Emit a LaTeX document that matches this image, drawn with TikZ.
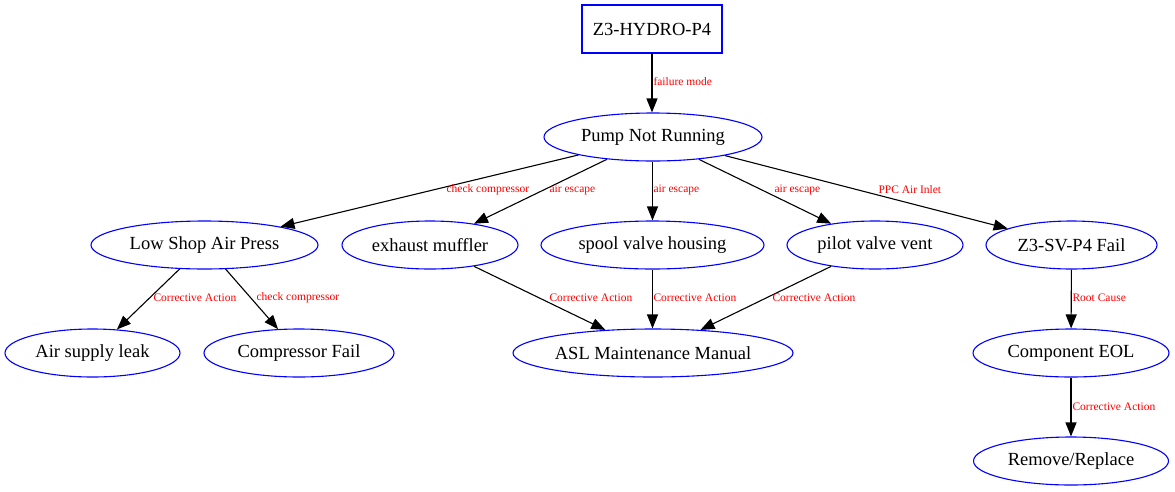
\documentclass[tikz,border=0pt]{standalone}
\usepackage{fontspec}
\setmainfont{Liberation Serif}
\usetikzlibrary{shapes.geometric,arrows.meta}
\newcommand\nbox[1]{\makebox[0pt]{#1}}
\tikzset{
  ell/.style={ellipse, draw=blue, line width=1.1pt, inner sep=0pt, minimum height=48pt,
    font=\fontsize{18.5}{20}\selectfont},
  boxn/.style={rectangle, draw=blue, line width=1.1pt, inner sep=0pt, minimum height=48pt,
    minimum width=140pt, font=\fontsize{18.5}{20}\selectfont},
  edge/.style={draw=black, line width=1.1pt, -{Triangle[length=14pt,width=11pt]}},
  lbl/.style={text=red, font=\fontsize{11.5}{12}\selectfont, inner sep=0pt, anchor=west}
}
\begin{document}
\begin{tikzpicture}[x=1pt,y=-1pt]
\useasboundingbox (0,0) rectangle (1175,491);
\node[boxn] (top) at (652,29) {\nbox{Z3-HYDRO-P4}};
\node[ell, minimum width=218pt] (pump) at (653,137) {\nbox{Pump Not Running}};
\node[ell, minimum width=227pt] (low) at (204.5,245) {\nbox{Low Shop Air Press}};
\node[ell, minimum width=176pt] (exh) at (430,245) {\nbox{exhaust muffler}};
\node[ell, minimum width=223pt] (spool) at (652.5,245) {\nbox{spool valve housing}};
\node[ell, minimum width=176pt] (pilot) at (875,245) {\nbox{pilot valve vent}};
\node[ell, minimum width=171pt] (sv) at (1071.5,245) {\nbox{Z3-SV-P4 Fail}};
\node[ell, minimum width=175pt] (leak) at (92.5,353) {\nbox{Air supply leak}};
\node[ell, minimum width=190pt] (comp) at (299,353) {\nbox{Compressor Fail}};
\node[ell, minimum width=280pt] (asl) at (653,353) {\nbox{ASL Maintenance Manual}};
\node[ell, minimum width=196pt] (eol) at (1071,353) {\nbox{Component EOL}};
\node[ell, minimum width=195pt] (rr) at (1071,461) {\nbox{Remove/Replace}};

\draw[edge] (top) -- (top|-pump.north) node[lbl] at (653,82) {failure mode};
\draw[edge] (pump) -- (low) node[lbl] at (446,190) {check compressor};
\draw[edge] (pump) -- (exh) node[lbl] at (549,190) {air escape};
\draw[edge] (pump.south-|spool) -- (spool) node[lbl] at (653,190) {air escape};
\draw[edge] (pump) -- (pilot) node[lbl] at (774,190) {air escape};
\draw[edge] (pump) -- (sv) node[lbl] at (878,190) {PPC Air Inlet};
\draw[edge] (low) -- (leak) node[lbl] at (153,298) {Corrective Action};
\draw[edge] (low) -- (comp) node[lbl] at (256,298) {check compressor};
\draw[edge] (exh) -- (asl) node[lbl] at (549,298) {Corrective Action};
\draw[edge] (spool) -- (asl.north-|spool) node[lbl] at (653,298) {Corrective Action};
\draw[edge] (pilot) -- (asl) node[lbl] at (772,298) {Corrective Action};
\draw[edge] (sv) -- (eol) node[lbl] at (1072,298) {Root Cause};
\draw[edge] (eol) -- (rr) node[lbl] at (1072,407) {Corrective Action};
\end{tikzpicture}
\end{document}
